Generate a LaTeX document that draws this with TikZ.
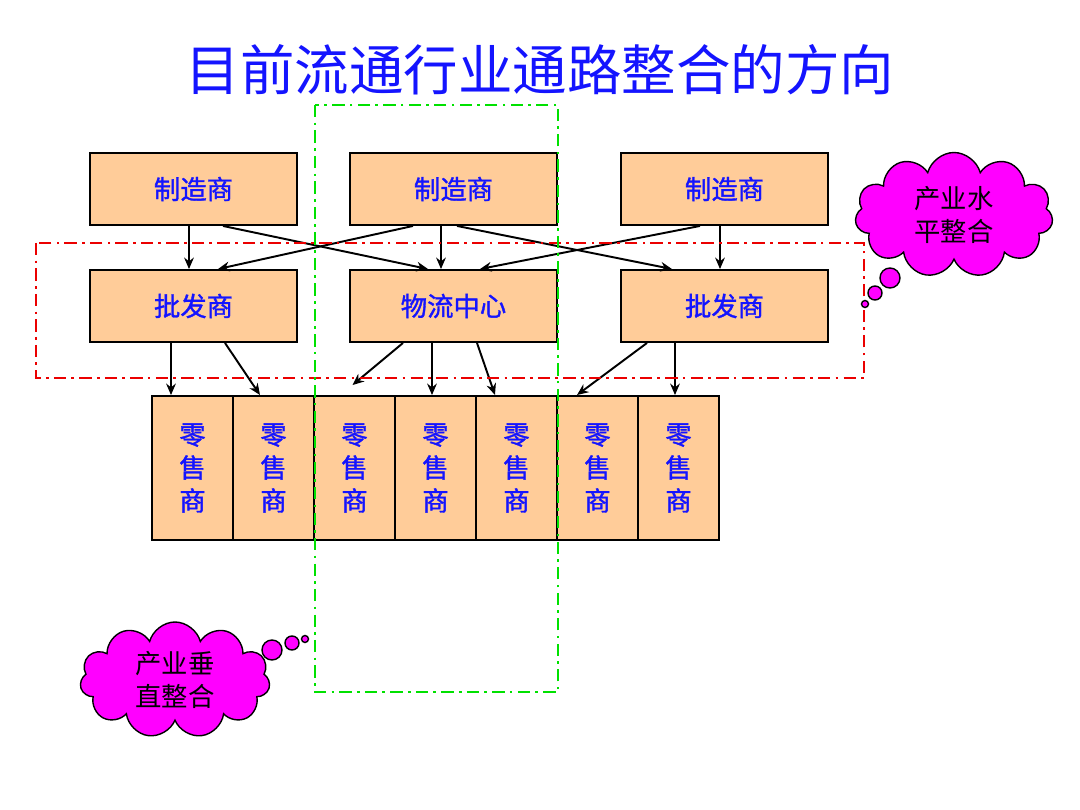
\documentclass[tikz,border=0pt]{standalone}
\usepackage{fontspec}
\newfontfamily\cjk{Noto Sans CJK SC}
\newfontfamily\cjkb{Noto Sans CJK SC}[FakeBold=1.3]
\usetikzlibrary{shapes.symbols,arrows.meta,calc}
\definecolor{peach}{RGB}{255,204,153}
\definecolor{tblue}{RGB}{20,20,255}
\definecolor{mag}{RGB}{255,0,255}
\definecolor{dred}{RGB}{235,0,0}
\definecolor{dgreen}{RGB}{0,225,0}
\begin{document}
\begin{tikzpicture}[x=0.02cm,y=-0.02cm,
  box/.style={draw=black, line width=1.1pt, fill=peach, minimum width=4.14cm, minimum height=1.44cm, inner sep=0pt, font=\cjkb\fontsize{15}{18}\selectfont, text=tblue},
  rbox/.style={draw=black, line width=1.1pt, fill=peach, minimum width=1.62cm, minimum height=2.88cm, inner sep=0pt, align=center, font=\cjkb\fontsize{15}{18.8}\selectfont, text=tblue},
  arr/.style={-{Stealth[length=6.5pt,width=5.5pt]}, line width=1.1pt},
  region/.style={line width=1.2pt, dash pattern=on 7pt off 3pt on 1.5pt off 3pt},
  thought/.style={cloud, cloud puffs=11, cloud ignores aspect, draw=black, line width=0.8pt, fill=mag, align=center, inner sep=0pt, font=\cjk\fontsize{15}{18.5}\selectfont, text=black},
  bub/.style={circle, draw=black, line width=0.8pt, fill=mag, inner sep=0pt}]
\useasboundingbox (0,0) rectangle (1080,810);

\node[font=\cjk\fontsize{31}{36}\selectfont, text=tblue] (title) at (540,70) {目前流通行业通路整合的方向};

% manufacturers
\node[box] (a1) at (193.5,189) {制造商};
\node[box] (a2) at (453.5,189) {制造商};
\node[box] (a3) at (724.5,189) {制造商};
% middle
\node[box] (b1) at (193.5,306) {批发商};
\node[box] (lc) at (453.5,306) {物流中心};
\node[box] (b3) at (724.5,306) {批发商};
% retailers
\foreach \i/\x in {1/192.5,2/273.5,3/354.5,4/435.5,5/516.5,6/597.5,7/678.5}
  \node[rbox] (r\i) at (\x,468) {零\\售\\商};

% arrows top layer
\draw[arr] ($(a1.south)+(-4.5,0)$) -- ($(b1.north)+(-4.5,0)$);
\draw[arr] ($(a1.south)+(29.5,0)$) -- ($(lc.north)+(-25.5,0)$);
\draw[arr] ($(a2.south)+(-40.5,0)$) -- ($(b1.north)+(24.5,0)$);
\draw[arr] ($(a2.south)+(-12.5,0)$) -- ($(lc.north)+(-12.5,0)$);
\draw[arr] ($(a2.south)+(3.5,0)$) -- ($(b3.north)+(-52.5,0)$);
\draw[arr] ($(a3.south)+(-24.5,0)$) -- ($(lc.north)+(26.5,0)$);
\draw[arr] ($(a3.south)+(-4.5,0)$) -- ($(b3.north)+(-4.5,0)$);
% arrows bottom layer
\draw[arr] ($(b1.south)+(-22.5,0)$) -- ($(r1.north)+(-21.5,0)$);
\draw[arr] ($(b1.south)+(31.5,0)$) -- ($(r2.north)+(-13.5,0)$);
\draw[arr] ($(lc.south)+(-50.5,0)$) -- ($(r3.north)+(-2,-10)$);
\draw[arr] ($(lc.south)+(-21.5,0)$) -- ($(r4.north)+(-3.5,0)$);
\draw[arr] ($(lc.south)+(23.5,0)$) -- ($(r5.north)+(-21.5,0)$);
\draw[arr] ($(b3.south)+(-77.5,0)$) -- ($(r6.north)+(-20.5,0)$);
\draw[arr] ($(b3.south)+(-49.5,0)$) -- ($(r7.north)+(-3.5,0)$);

% integration regions
\draw[region, dred] (36,243) rectangle (864,378);
\draw[region, dgreen] (315,105) rectangle (558,692);

% thought clouds
\node[thought, minimum width=3.96cm, minimum height=2.5cm] (hc) at (954,215) {产业水\\平整合};
\node[bub, minimum size=0.4cm] (hb1) at (890,278) {};
\node[bub, minimum size=0.28cm] (hb2) at (875,293) {};
\node[bub, minimum size=0.14cm] (hb3) at (865,304) {};

\node[thought, minimum width=3.8cm, minimum height=2.32cm] (vc) at (175,680) {产业垂\\直整合};
\node[bub, minimum size=0.4cm] (vb1) at (272,650) {};
\node[bub, minimum size=0.28cm] (vb2) at (292,643) {};
\node[bub, minimum size=0.14cm] (vb3) at (305,639) {};
\end{tikzpicture}
\end{document}
